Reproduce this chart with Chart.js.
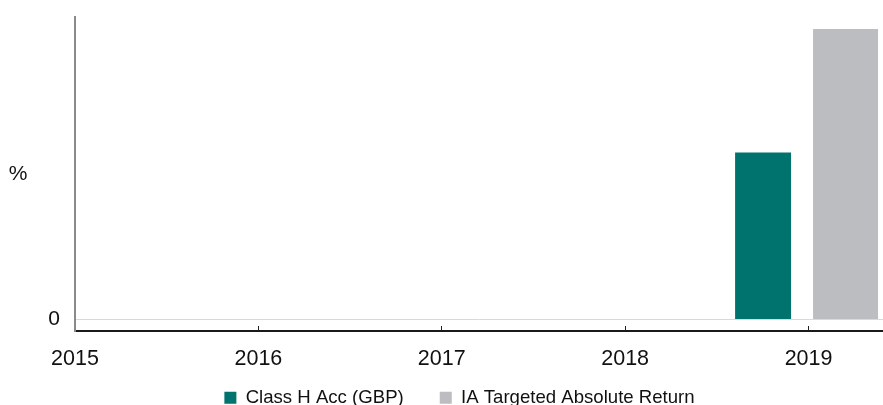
<!DOCTYPE html>
<html>
<head>
<meta charset="utf-8">
<script src="https://cdn.jsdelivr.net/npm/chart.js@4.4.1/dist/chart.umd.min.js"></script>
<style>
  html, body { margin: 0; padding: 0; background: #fff; overflow: hidden; }
  #wrap { position: relative; width: 883px; height: 417px; }
</style>
</head>
<body>
<div id="wrap"><canvas id="c"></canvas></div>
<script>
// ---- data ----
const seriesNames = ['Class H Acc (GBP)', 'IA Targeted Absolute Return'];
const barYears = [2019];
const classHAcc = [2.76];
const iaTargetedAbsReturn = [4.80];
const xTickYears = [2015, 2016, 2017, 2018, 2019];
const xTickLabels = ['2015', '2016', '2017', '2018', '2019'];
const yTickValues = [0];
const yTickLabels = ['0'];
const yAxisLabel = '%';

const FONT = "'Liberation Sans', Arial, sans-serif";
Chart.defaults.font.family = FONT;
Chart.defaults.color = '#111';

const percentLabel = {
  id: 'percentLabel',
  afterDraw(chart) {
    const {ctx, chartArea} = chart;
    ctx.save();
    ctx.font = '21px ' + FONT;
    ctx.fillStyle = '#111';
    ctx.textAlign = 'center';
    ctx.textBaseline = 'middle';
    ctx.fillText(yAxisLabel, 18, (chartArea.top + chartArea.bottom) / 2);
    ctx.restore();
  }
};

new Chart(document.getElementById('c'), {
  type: 'bar',
  data: {
    datasets: [
      {
        label: seriesNames[0],
        data: barYears.map((x, i) => ({x: x, y: classHAcc[i]})),
        backgroundColor: '#00736F',
        categoryPercentage: 0.992,
        barPercentage: 0.615
      },
      {
        label: seriesNames[1],
        data: barYears.map((x, i) => ({x: x, y: iaTargetedAbsReturn[i]})),
        backgroundColor: '#BCBDC1',
        categoryPercentage: 0.807,
        barPercentage: 0.878
      }
    ]
  },
  options: {
    responsive: true,
    maintainAspectRatio: false,
    animation: false,
    layout: { padding: { top: 17, left: 36, right: 0, bottom: 0 } },
    plugins: {
      tooltip: { enabled: false },
      legend: {
        position: 'bottom',
        labels: {
          boxWidth: 12,
          boxHeight: 12,
          padding: 36,
          color: '#111',
          font: { size: 18.6 }
        }
      }
    },
    scales: {
      x: {
        type: 'linear',
        min: 2015,
        max: 2019.406,
        offset: false,
        afterBuildTicks: s => { s.ticks = xTickYears.map(v => ({value: v})); },
        afterFit: s => { s.height = 21.4; s.paddingLeft = 0; s.paddingRight = 0; },
        ticks: {
          mirror: true,
          padding: -40.5,
          maxRotation: 0,
          autoSkip: false,
          font: { size: 21.5 },
          color: '#111',
          callback: (v, i) => xTickLabels[i]
        },
        grid: {
          offset: false,
          drawOnChartArea: false,
          drawTicks: true,
          tickLength: -5,
          tickColor: '#222',
          tickWidth: 1
        },
        border: { display: true, color: '#1a1a1a', width: 2 }
      },
      y: {
        type: 'linear',
        min: -0.19,
        max: 5,
        afterBuildTicks: s => { s.ticks = yTickValues.map(v => ({value: v})); },
        afterFit: s => { s.width = 39; s.paddingTop = 0; s.paddingBottom = 0; },
        ticks: {
          padding: 15,
          font: { size: 21 },
          color: '#111',
          callback: (v, i) => yTickLabels[i]
        },
        grid: {
          drawTicks: false,
          color: '#d9d9d9',
          lineWidth: 1
        },
        border: { display: true, color: '#8a8a8a', width: 2 }
      }
    }
  },
  plugins: [percentLabel]
});
</script>
</body>
</html>
